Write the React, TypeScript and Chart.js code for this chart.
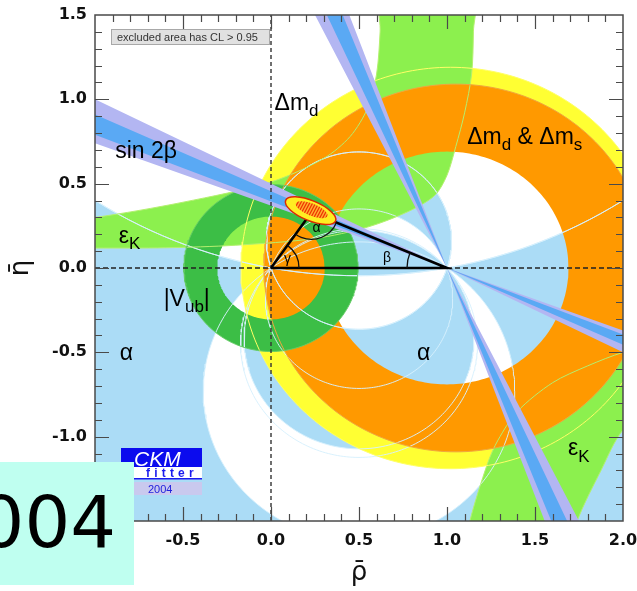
import React, { useEffect, useRef } from "react";
import { Chart, registerables } from "chart.js";

Chart.register(...registerables);

// ---------------- axes ----------------
const rhoRange = [-1.0, 2.0];
const etaRange = [-1.5, 1.5];
const majorStep = 0.5;
const minorStep = 0.1;

// ---------------- unitarity triangle: O, apex, B ----------------
const triangleRho = [0.0, 0.23, 1.0];
const triangleEta = [0.0, 0.33, 0.0];

// ---------------- alpha constraint: signed-alpha edges (deg) ----------------
const alphaUpperEdges = [10.5, 72, 110, 132];
const alphaLowerEdges = [-34.4, -50, -108, -169.5];

// ---------------- rings: [centre rho, centre eta, radius] ----------------
const dmdOuter = [1.02, 0.0, 1.19];
const dmdInner = [1.0, 0.0, 0.8];
const dmsOuter = [1.05, 0.0, 1.09];
const dmsInner = [1.0, 0.0, 0.69];
const vubOuter = [0.0, 0.0, 0.495];
const vubInner = [0.0, 0.0, 0.305];

// ---------------- sin 2beta : eta = m (1 - rho) ----------------
const sin2bOuterSlopes = [0.37, 0.5];
const sin2bInnerSlopes = [0.395, 0.455];

// ---------------- eps_K bands (boundary points) ----------------
const epsKUpperRho = [-1.2, -1.0, -0.5, 0.0, 0.3, 0.45, 0.55, 0.6, 0.62, 0.63, 1.15, 1.15, 1.14, 1.1, 1.05, 1.0, 0.93, 0.78, 0.55, 0.25, -0.2, -0.6, -1.0, -1.2];
const epsKUpperEta = [0.29, 0.3, 0.39, 0.51, 0.65, 0.78, 0.95, 1.15, 1.4, 1.7, 1.7, 1.4, 1.15, 0.92, 0.72, 0.55, 0.43, 0.335, 0.243, 0.175, 0.135, 0.12, 0.118, 0.117];
const epsKLowerRho = [1.1, 1.13, 1.23, 1.29, 1.4, 1.6, 1.8, 2.0, 2.2, 2.2, 2.0, 1.875, 1.74, 1.7];
const epsKLowerEta = [-1.7, -1.5, -1.16, -1.02, -0.85, -0.68, -0.58, -0.5, -0.45, -0.8, -0.96, -1.2, -1.5, -1.7];

// ---------------- global fit contour: centre ----------------
const fitCentre = [0.225, 0.34];

// ---------------- colours ----------------
const C_ALPHA = "#abdcf6";
const C_ALPHA_LINE = "rgba(215,240,253,0.95)";
const C_EPSK = "#8cf04e";
const C_EPSK_LINE = "#b4f070";
const C_DMD = "#ffff33";
const C_DMS = "#ff9900";
const C_VUB = "#3cbe46";
const C_S2B_OUT = "#b3b6f2";
const C_S2B_IN = "#5aa9f4";

const FONT = "'Liberation Sans', Arial, Helvetica, sans-serif";
const TICK_FONT = "'DejaVu Sans', 'Liberation Sans', sans-serif";
const TITLE_FONT = "'DejaVu Sans', 'Liberation Sans', sans-serif";
const LABEL = 23;

type P = { x: number; y: number };

function circlePts(c: number[], reverse = false, n = 240): P[] {
  const pts: P[] = [];
  for (let i = 0; i <= n; i++) {
    const t = ((reverse ? n - i : i) / n) * 2 * Math.PI;
    pts.push({ x: c[0] + c[2] * Math.cos(t), y: c[1] + c[2] * Math.sin(t) });
  }
  return pts;
}
function annulus(outer: number[], inner: number[]): P[] {
  return [...circlePts(outer), ...circlePts(inner, true)];
}
function alphaK(deg: number) {
  return 0.5 / Math.tan((deg * Math.PI) / 180);
}
function alphaCircle(deg: number): number[] {
  const k = alphaK(deg);
  return [0.5, k, Math.hypot(0.5, k)];
}
function halfDisk(deg: number, upper: boolean, n = 300): P[] {
  const k = alphaK(deg);
  const r = Math.hypot(0.5, k);
  const tB = Math.atan2(-k, 0.5);
  const tO = Math.atan2(-k, -0.5);
  let a0 = upper ? tB : tO;
  let a1 = upper ? tO : tB;
  while (a1 <= a0) a1 += 2 * Math.PI;
  const pts: P[] = [];
  for (let i = 0; i <= n; i++) {
    const a = a0 + ((a1 - a0) * i) / n;
    pts.push({ x: 0.5 + r * Math.cos(a), y: k + r * Math.sin(a) });
  }
  return pts;
}
function wedge(m: number[]): P[] {
  const L = -1.5, R = 3.5;
  return [
    { x: L, y: m[0] * (1 - L) },
    { x: L, y: m[1] * (1 - L) },
    { x: 1, y: 0 },
    { x: R, y: m[1] * (1 - R) },
    { x: R, y: m[0] * (1 - R) },
    { x: 1, y: 0 },
  ];
}
function zip(xs: number[], ys: number[]): P[] {
  return xs.map((x, i) => ({ x, y: ys[i] }));
}

function fillDs(data: P[], color: string, tension = 0) {
  return {
    data,
    backgroundColor: color,
    borderColor: color,
    borderWidth: 0,
    fill: "shape",
    pointRadius: 0,
    tension,
    capBezierPoints: false,
  };
}
function lineDs(data: P[], color: string, width = 1, dash: number[] = [], tension = 0) {
  return {
    data,
    borderColor: color,
    backgroundColor: color,
    borderWidth: width,
    borderDash: dash,
    fill: false,
    pointRadius: 0,
    tension,
    capBezierPoints: false,
  };
}

function drawParts(ctx: CanvasRenderingContext2D, x: number, y: number, parts: [string, boolean][], size: number, color = "#000") {
  let cx = x;
  ctx.fillStyle = color;
  ctx.textAlign = "left";
  ctx.textBaseline = "alphabetic";
  for (const [txt, sub] of parts) {
    const s = sub ? Math.round(size * 0.72) : size;
    ctx.font = `${s}px ${FONT}`;
    ctx.fillText(txt, cx, sub ? y + size * 0.28 : y);
    cx += ctx.measureText(txt).width;
  }
}

const overlayPlugin = {
  id: "ckmOverlay",
  afterDatasetsDraw(chart: any) {
    const { ctx, chartArea: ca, scales } = chart;
    const sx = scales.x, sy = scales.y;
    const px = (v: number) => sx.getPixelForValue(v);
    const py = (v: number) => sy.getPixelForValue(v);
    const O = [px(triangleRho[0]), py(triangleEta[0])];
    const A = [px(triangleRho[1]), py(triangleEta[1])];
    const B = [px(triangleRho[2]), py(triangleEta[2])];

    ctx.save();
    ctx.beginPath();
    ctx.rect(ca.left, ca.top, ca.right - ca.left, ca.bottom - ca.top);
    ctx.clip();

    // angle arcs
    ctx.strokeStyle = "#111";
    ctx.lineWidth = 1.3;
    const dirOA = Math.atan2(A[1] - O[1], A[0] - O[0]);
    ctx.beginPath();
    ctx.arc(O[0], O[1], 28, dirOA, 0);
    ctx.stroke();
    const dirAB = Math.atan2(B[1] - A[1], B[0] - A[0]);
    const dirAO = Math.atan2(O[1] - A[1], O[0] - A[0]);
    ctx.beginPath();
    ctx.arc(A[0], A[1], 27, dirAB, dirAO, false);
    ctx.stroke();
    const dirBA = Math.atan2(A[1] - B[1], A[0] - B[0]);
    ctx.beginPath();
    ctx.arc(B[0], B[1], 40, Math.PI, dirBA + 2 * Math.PI, false);
    ctx.stroke();

    // fit contour (ellipse)
    const E = [px(fitCentre[0]), py(fitCentre[1])];
    const rot = Math.atan2(B[1] - A[1], B[0] - A[0]);
    ctx.beginPath();
    ctx.ellipse(E[0], E[1], 27, 10, rot, 0, 2 * Math.PI);
    ctx.fillStyle = "#ffee22";
    ctx.fill();
    ctx.lineWidth = 1.5;
    ctx.strokeStyle = "#dd2a00";
    ctx.stroke();
    ctx.save();
    ctx.beginPath();
    ctx.ellipse(E[0] + 1, E[1] - 1, 17, 6, rot, 0, 2 * Math.PI);
    ctx.clip();
    ctx.fillStyle = "#ffb030";
    ctx.fillRect(E[0] - 30, E[1] - 20, 60, 40);
    ctx.strokeStyle = "#ee3300";
    ctx.lineWidth = 1.2;
    for (let d = -40; d <= 40; d += 3) {
      ctx.beginPath();
      ctx.moveTo(E[0] + d - 12, E[1] + 15);
      ctx.lineTo(E[0] + d + 4, E[1] - 15);
      ctx.stroke();
    }
    ctx.restore();

    // text labels
    drawParts(ctx, px(0.02), py(0.937), [["Δm", false], ["d", true]], LABEL);
    drawParts(ctx, px(1.115), py(0.735), [["Δm", false], ["d", true], [" & Δm", false], ["s", true]], LABEL);
    drawParts(ctx, px(-0.885), py(0.65), [["sin 2β", false]], LABEL);
    drawParts(ctx, px(-0.865), py(0.148), [["ε", false], ["K", true]], LABEL);
    drawParts(ctx, px(1.6875), py(-1.11), [["ε", false], ["K", true]], LABEL);
    drawParts(ctx, px(-0.61), py(-0.225), [["|V", false], ["ub", true], ["|", false]], LABEL);
    drawParts(ctx, px(-0.86), py(-0.545), [["α", false]], LABEL);
    drawParts(ctx, px(0.83), py(-0.545), [["α", false]], LABEL);
    drawParts(ctx, A[0] + 1, A[1] + 20, [["α", false]], 14);
    drawParts(ctx, O[0] + 13, O[1] - 5, [["γ", false]], 14);
    drawParts(ctx, B[0] - 64, B[1] - 6, [["β", false]], 14);

    // "excluded area" box
    const bx = ca.left + 16, by = ca.top + 14;
    ctx.fillStyle = "#e1e1e1";
    ctx.fillRect(bx, by, 158, 15);
    ctx.strokeStyle = "#a8a8a8";
    ctx.lineWidth = 1;
    ctx.strokeRect(bx + 0.5, by + 0.5, 158, 15);
    ctx.fillStyle = "#333";
    ctx.font = `11px ${FONT}`;
    ctx.textAlign = "left";
    ctx.textBaseline = "alphabetic";
    ctx.fillText("excluded area has CL > 0.95", bx + 6, by + 11.5);

    // CKMfitter logo
    const lx = ca.left + 26, ly = ca.bottom - 73;
    ctx.fillStyle = "#0b0bee";
    ctx.fillRect(lx, ly, 81, 19);
    ctx.fillStyle = "#ffffff";
    ctx.font = `italic 21px ${FONT}`;
    ctx.fillText("CKM", lx + 13, ly + 18);
    ctx.fillStyle = "#ffffff";
    ctx.fillRect(lx + 12, ly + 19, 69, 12);
    ctx.fillStyle = "#1a1aee";
    ctx.font = `bold 12px ${FONT}`;
    let fx = lx + 25;
    for (const ch of "fitter") {
      ctx.fillText(ch, fx, ly + 29);
      fx += ctx.measureText(ch).width + 4.2;
    }
    ctx.fillRect(lx + 12, ly + 30, 69, 1.5);
    ctx.fillStyle = "#c9c9ee";
    ctx.fillRect(lx + 12, ly + 34, 69, 13);
    ctx.fillStyle = "#2222dd";
    ctx.font = `11px ${FONT}`;
    ctx.fillText("2004", lx + 27, ly + 45);

    ctx.restore();

    // frame and inward ticks
    ctx.save();
    ctx.strokeStyle = "#4a4a4a";
    ctx.lineWidth = 1.5;
    ctx.strokeRect(ca.left, ca.top, ca.right - ca.left, ca.bottom - ca.top);
    ctx.lineWidth = 1.2;
    const nx0 = Math.round(rhoRange[0] / minorStep), nx1 = Math.round(rhoRange[1] / minorStep);
    const per = Math.round(majorStep / minorStep);
    ctx.beginPath();
    for (let i = nx0 + 1; i < nx1; i++) {
      const v = i * minorStep;
      const len = i % per === 0 ? 14 : 7;
      const X = Math.round(px(v)) + 0.5;
      ctx.moveTo(X, ca.bottom); ctx.lineTo(X, ca.bottom - len);
      ctx.moveTo(X, ca.top); ctx.lineTo(X, ca.top + len);
    }
    const ny0 = Math.round(etaRange[0] / minorStep), ny1 = Math.round(etaRange[1] / minorStep);
    for (let i = ny0 + 1; i < ny1; i++) {
      const v = i * minorStep;
      const len = i % per === 0 ? 14 : 7;
      const Y = Math.round(py(v)) + 0.5;
      ctx.moveTo(ca.left, Y); ctx.lineTo(ca.left + len, Y);
      ctx.moveTo(ca.right, Y); ctx.lineTo(ca.right - len, Y);
    }
    ctx.stroke();
    ctx.restore();
  },
};

function buildDatasets() {
  const ds: any[] = [];
  ds.push(fillDs([{ x: -2, y: -3 }, { x: 3, y: -3 }, { x: 3, y: 3 }, { x: -2, y: 3 }], C_ALPHA));
  alphaUpperEdges.forEach((d, i) => ds.push(fillDs(halfDisk(d, true), i % 2 === 0 ? "#ffffff" : C_ALPHA)));
  alphaLowerEdges.forEach((d, i) => ds.push(fillDs(halfDisk(d, false), i % 2 === 0 ? "#ffffff" : C_ALPHA)));
  ds.push(fillDs(annulus(dmdOuter, dmdInner), C_DMD));
  ds.push(fillDs(zip(epsKUpperRho, epsKUpperEta), C_EPSK, 0.3));
  ds.push(fillDs(zip(epsKLowerRho, epsKLowerEta), C_EPSK, 0.3));
  ds.push(fillDs(annulus(dmsOuter, dmsInner), C_DMS));
  ds.push(fillDs(annulus(vubOuter, vubInner), C_VUB));
  [...alphaUpperEdges, ...alphaLowerEdges].forEach((d) => ds.push(lineDs(circlePts(alphaCircle(d)), C_ALPHA_LINE, 1)));
  ds.push(lineDs(zip(epsKUpperRho, epsKUpperEta), C_EPSK_LINE, 1, [], 0.3));
  ds.push(lineDs(zip(epsKLowerRho, epsKLowerEta), C_EPSK_LINE, 1, [], 0.3));
  ds.push(lineDs(circlePts(dmdOuter), "#ffff66", 1));
  ds.push(lineDs(circlePts(dmsOuter), "#f0a640", 1));
  ds.push(lineDs(circlePts(vubOuter), "#66cc66", 1));
  ds.push(fillDs(wedge(sin2bOuterSlopes), C_S2B_OUT));
  ds.push(fillDs(wedge(sin2bOuterSlopes.map((m) => 1 / m)), C_S2B_OUT));
  ds.push(fillDs(wedge(sin2bInnerSlopes), C_S2B_IN));
  ds.push(fillDs(wedge(sin2bInnerSlopes.map((m) => 1 / m)), C_S2B_IN));
  ds.push(lineDs([{ x: 0, y: etaRange[0] }, { x: 0, y: etaRange[1] }], "#333", 1.4, [4, 3]));
  ds.push(lineDs([{ x: rhoRange[0], y: 0 }, { x: 0, y: 0 }], "#222", 1.4, [5, 3]));
  ds.push(lineDs([{ x: 1, y: 0 }, { x: rhoRange[1], y: 0 }], "#222", 1.4, [5, 3]));
  ds.push(lineDs(zip([...triangleRho, triangleRho[0]], [...triangleEta, triangleEta[0]]), "#000", 2.6));
  return ds.map((d, i) => ({ ...d, order: -i }));
}

export default function App() {
  const ref = useRef<HTMLCanvasElement | null>(null);
  useEffect(() => {
    if (!ref.current) return;
    const tickFont = { family: TICK_FONT, size: 16, weight: "bold" as const };
    const chart = new Chart(ref.current, {
      type: "line",
      data: { datasets: buildDatasets() },
      options: {
        responsive: false,
        maintainAspectRatio: false,
        devicePixelRatio: 1,
        animation: false,
        events: [],
        layout: { padding: { top: 15, right: 14, left: 0, bottom: 0 } },
        plugins: { legend: { display: false }, tooltip: { enabled: false } },
        scales: {
          x: {
            type: "linear",
            min: rhoRange[0],
            max: rhoRange[1],
            grid: { display: false, drawTicks: false },
            border: { display: false },
            ticks: {
              stepSize: majorStep,
              autoSkip: false,
              maxRotation: 0,
              padding: 10,
              color: "#111",
              font: tickFont,
              callback: (v: any) => Number(v).toFixed(1),
            },
            title: { display: true, text: "ρ̄", color: "#111", font: { family: TITLE_FONT, size: 26 }, padding: { top: 0, bottom: 2 } },
            afterFit: (s: any) => { s.height = 70; s.paddingLeft = 0; s.paddingRight = 0; },
          },
          y: {
            type: "linear",
            min: etaRange[0],
            max: etaRange[1],
            grid: { display: false, drawTicks: false },
            border: { display: false },
            ticks: {
              stepSize: majorStep,
              autoSkip: false,
              padding: 8,
              color: "#111",
              font: tickFont,
              callback: (v: any) => Number(v).toFixed(1),
            },
            title: { display: true, text: "η̄", color: "#111", font: { family: TITLE_FONT, size: 26 }, padding: { top: 6, bottom: 0 } },
            afterFit: (s: any) => { s.width = 95; s.paddingTop = 0; s.paddingBottom = 0; },
          },
        },
      },
      plugins: [overlayPlugin],
    } as any);
    return () => chart.destroy();
  }, []);

  return (
    <div style={{ position: "absolute", left: 0, top: 0, width: 637, height: 591, background: "#fff", overflow: "hidden" }}>
      <canvas ref={ref} width={637} height={591} style={{ display: "block" }} />
      <div
        style={{
          position: "absolute",
          left: 0,
          top: 462,
          width: 134,
          height: 123,
          background: "#bffff0",
          overflow: "hidden",
        }}
      >
        <span
          style={{
            position: "absolute",
            right: 18,
            top: 24,
            fontFamily: "'DejaVu Sans', sans-serif",
            fontSize: 72,
            lineHeight: "72px",
            color: "#000",
            whiteSpace: "nowrap",
          }}
        >
          2004
        </span>
      </div>
    </div>
  );
}
